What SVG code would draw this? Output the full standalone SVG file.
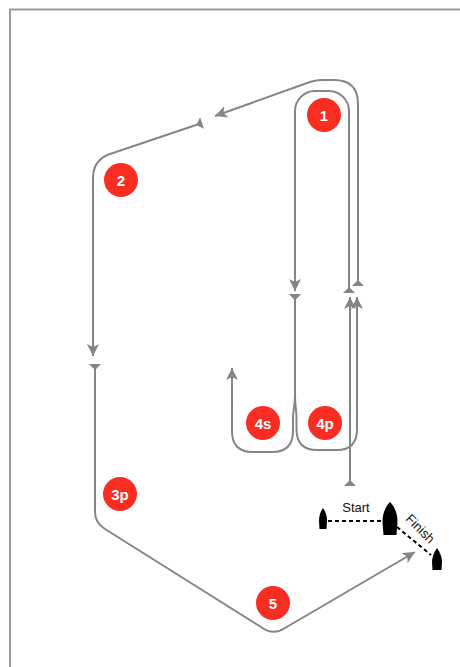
<svg xmlns="http://www.w3.org/2000/svg" width="460" height="667" viewBox="0 0 460 667">
<style>
.route{fill:none;stroke:#858585;stroke-width:2;marker-start:url(#st);marker-end:url(#arr)}
.mark circle{fill:#fa2d23}
.mark text{fill:#fff;font-family:"Liberation Sans",Arial,sans-serif;font-weight:bold;font-size:15px;text-anchor:middle}
.boat{fill:#000}
.line{fill:none;stroke:#000;stroke-width:2;stroke-dasharray:4 3}
.lbl{fill:#111;font-family:"Liberation Sans",Arial,sans-serif;font-size:13px;text-anchor:middle}
</style>
<defs>
<marker id="arr" markerUnits="userSpaceOnUse" markerWidth="14" markerHeight="14" viewBox="-13 -7 14 14" refX="0" refY="0" orient="auto">
<path d="M0,0 L-12,-6 L-9,0 L-12,6 z" fill="#858585"/>
</marker>
<marker id="st" markerUnits="userSpaceOnUse" markerWidth="10" markerHeight="14" viewBox="-1 -7 10 14" refX="0" refY="0" orient="auto">
<path d="M0,-6 L6,0 L0,6 z" fill="#858585"/>
</marker>
</defs>
<rect x="10" y="9.5" width="500" height="700" fill="none" stroke="#9a9a9a" stroke-width="2"/>
<g id="connectors">
<path class="route" d="M350,486 L350,297"/>
<path class="route" d="M349,293 L349,111 A20,20 0 0 0 329,91 L315,91 A20,20 0 0 0 295,111 L295,291"/>
<path class="route" d="M358,286 L358,104 Q358,80 334,80 L322,80 Q316,80 310,82 L215,116"/>
<path class="route" d="M202,123 L110,154 Q93,160 93,178 L93,356"/>
<path class="route" d="M95,364 L95,512 Q95,523 105,529 L261,627 Q273,636 285,628 L415,552"/>
<path class="route" d="M295,294 L295,396 C295,406 293,410 293,418 L293,431 Q293,452 272,452 L253,452 Q232,452 232,431 L232,368"/>
<path class="route" d="M295,294 L295,396 C295,406 296.5,410 296.5,418 L296.5,429 Q296.5,450 317,450 L337,450 Q357,450 357,429 L357,297"/>
</g>
<g id="mark-1" class="mark"><circle cx="324" cy="115" r="17"/><text x="324" y="120.5">1</text></g>
<g id="mark-2" class="mark"><circle cx="121" cy="180" r="17"/><text x="121" y="185.5">2</text></g>
<g id="mark-4s" class="mark"><circle cx="263" cy="423" r="17"/><text x="263" y="428.5">4s</text></g>
<g id="mark-4p" class="mark"><circle cx="325" cy="423" r="17"/><text x="325" y="428.5">4p</text></g>
<g id="mark-3p" class="mark"><circle cx="120" cy="494" r="17"/><text x="120" y="499.5">3p</text></g>
<g id="mark-5" class="mark"><circle cx="273" cy="603" r="17"/><text x="273" y="608.5">5</text></g>
<g id="start-line">
<path class="line" d="M328,521 L383,521"/>
<text class="lbl" x="356" y="512">Start</text>
</g>
<g id="finish-line">
<path class="line" d="M397,527 L431,555"/>
<text class="lbl" transform="translate(420,529) rotate(45)" x="0" y="4">Finish</text>
</g>
<g id="pin-boat"><path class="boat" d="M323,508 C326,512 327,516 327,521 L326.5,529 L319.5,529 L319,521 C319,516 320,512 323,508 z"/></g>
<g id="committee-boat"><path class="boat" d="M390,502 C395,507 397.5,514 397.5,522 L396.5,535 L383.5,535 L382.5,522 C382.5,514 385,507 390,502 z"/></g>
<g id="finish-boat"><path class="boat" d="M437,548 C440,552 442,557 442,562 L441.5,570 L432.5,570 L432,562 C432,557 434,552 437,548 z"/></g>
</svg>
